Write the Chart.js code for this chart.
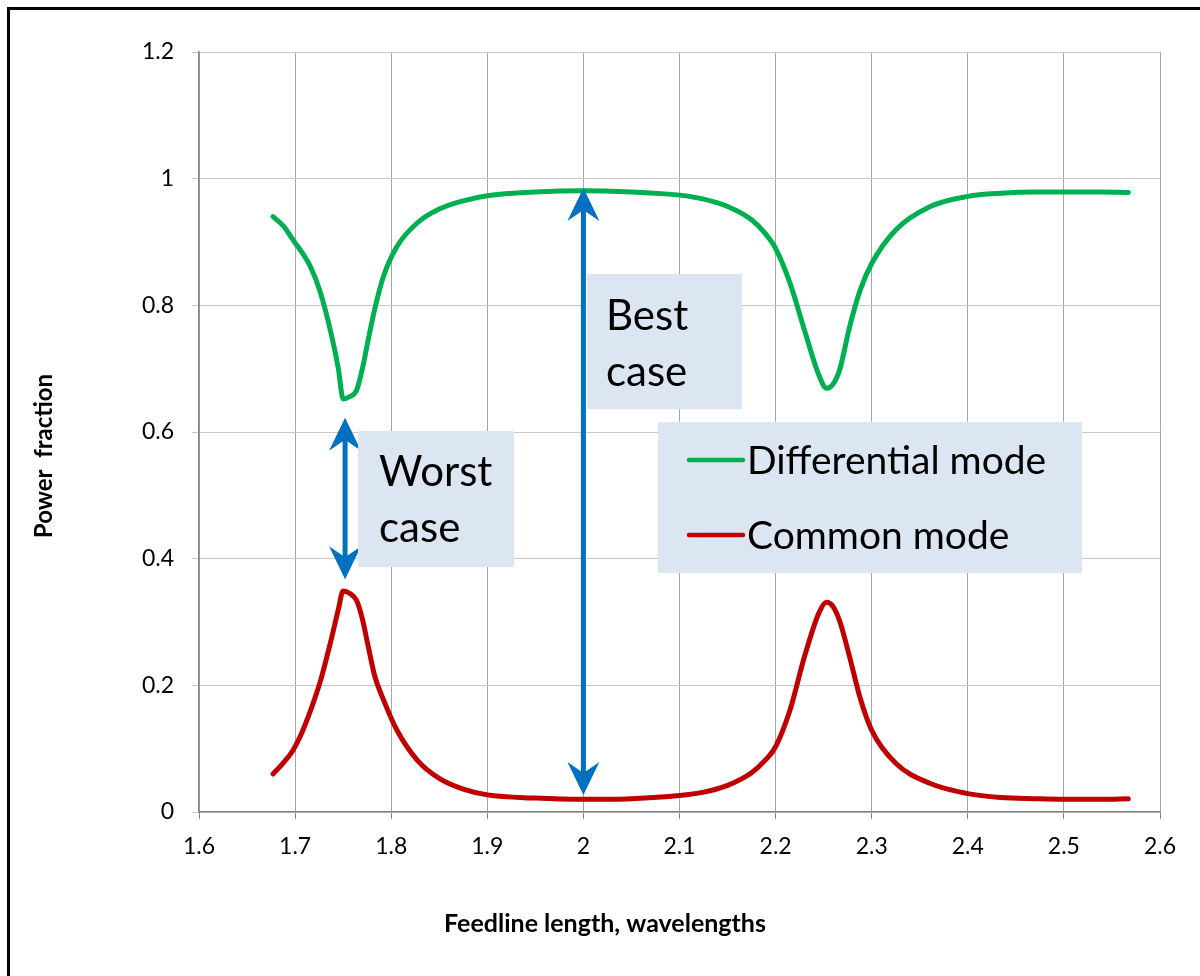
<!DOCTYPE html>
<html>
<head>
<meta charset="utf-8">
<script src="https://cdn.jsdelivr.net/npm/chart.js@4.4.1/dist/chart.umd.min.js"></script>
<style>
    html, body { margin: 0; padding: 0; background: #fff; }
    #wrap { position: relative; width: 1200px; height: 976px; }
</style>
</head>
<body>
<div id="wrap"><canvas id="modeChart"></canvas></div>
<script>
// Feedline length in wavelengths
const lengths = [1.677, 1.688, 1.698, 1.707, 1.716, 1.726, 1.738, 1.745, 1.750, 1.757, 1.764, 1.770, 1.776, 1.783,
    1.792, 1.806, 1.827, 1.85, 1.875, 1.90, 1.95, 2.00, 2.05, 2.10, 2.124, 2.15, 2.175, 2.19, 2.20, 2.215,
    2.230, 2.245, 2.253, 2.260, 2.267, 2.277, 2.288, 2.300, 2.325, 2.361, 2.40, 2.434, 2.47, 2.50, 2.54, 2.567];

const differentialMode = [0.940, 0.925, 0.903, 0.884, 0.861, 0.822, 0.752, 0.700, 0.652, 0.656, 0.666, 0.700, 0.745, 0.795,
    0.846, 0.893, 0.930, 0.952, 0.965, 0.973, 0.979, 0.981, 0.979, 0.974, 0.968, 0.956, 0.935, 0.912, 0.890, 0.835,
    0.761, 0.690, 0.669, 0.676, 0.700, 0.766, 0.824, 0.866, 0.919, 0.956, 0.972, 0.977, 0.979, 0.979, 0.979, 0.978];

const commonMode = [0.060, 0.078, 0.098, 0.125, 0.160, 0.205, 0.275, 0.320, 0.349, 0.345, 0.334, 0.305, 0.262, 0.214,
    0.177, 0.129, 0.082, 0.053, 0.036, 0.027, 0.022, 0.020, 0.021, 0.026, 0.031, 0.042, 0.062, 0.083, 0.103, 0.161,
    0.245, 0.314, 0.331, 0.324, 0.300, 0.245, 0.180, 0.129, 0.077, 0.045, 0.029, 0.023, 0.021, 0.020, 0.020, 0.021];

const xTicks = [1.6, 1.7, 1.8, 1.9, 2, 2.1, 2.2, 2.3, 2.4, 2.5, 2.6];
const yTicks = [0, 0.2, 0.4, 0.6, 0.8, 1, 1.2];

const seriesNames = ['Differential mode', 'Common mode'];
const seriesColors = ['#00b050', '#c00000'];

// arrows: [x, yFrom, yTo]
const worstArrow = [1.752, 0.6226, 0.3674];
const bestArrow = [2.0, 0.9853, 0.0268];

const FONT = 'Lato, "Open Sans", sans-serif';
const ARROW_BLUE = '#0070c0';
const BOX_FILL = '#dce6f2';

function toPoints(ys) {
    return lengths.map((x, i) => ({ x: x, y: ys[i] }));
}

function drawArrowHead(ctx, x, y, dir) {
    // dir = -1 points up, 1 points down
    ctx.beginPath();
    ctx.moveTo(x, y);
    ctx.lineTo(x - 16, y - dir * 33);
    ctx.lineTo(x, y - dir * 22);
    ctx.lineTo(x + 16, y - dir * 33);
    ctx.closePath();
    ctx.fill();
}

function drawDoubleArrow(chart, a) {
    const ctx = chart.ctx;
    const xs = chart.scales.x, ys = chart.scales.y;
    const px = xs.getPixelForValue(a[0]);
    const top = ys.getPixelForValue(a[1]);
    const bot = ys.getPixelForValue(a[2]);
    ctx.save();
    ctx.strokeStyle = ARROW_BLUE;
    ctx.fillStyle = ARROW_BLUE;
    ctx.lineWidth = 5;
    ctx.beginPath();
    ctx.moveTo(px, top + 20);
    ctx.lineTo(px, bot - 20);
    ctx.stroke();
    drawArrowHead(ctx, px, top, -1);
    drawArrowHead(ctx, px, bot, 1);
    ctx.restore();
}

function drawTextBox(chart, x0, y0, x1, y1, lines, textX, firstBase, lineGap, size) {
    const ctx = chart.ctx;
    const xs = chart.scales.x, ys = chart.scales.y;
    const l = xs.getPixelForValue(x0), r = xs.getPixelForValue(x1);
    const t = ys.getPixelForValue(y0), b = ys.getPixelForValue(y1);
    ctx.save();
    ctx.fillStyle = BOX_FILL;
    ctx.fillRect(l, t, r - l, b - t);
    ctx.fillStyle = '#000';
    ctx.font = size + 'px ' + FONT;
    ctx.textBaseline = 'alphabetic';
    ctx.textAlign = 'left';
    lines.forEach((txt, i) => ctx.fillText(txt, l + textX, t + firstBase + i * lineGap));
    ctx.restore();
}

const overlay = {
    id: 'overlay',
    beforeDraw(chart) {
        const ctx = chart.ctx;
        ctx.save();
        ctx.fillStyle = '#fff';
        ctx.fillRect(0, 0, chart.width, chart.height);
        // outer frame (only top and left edges visible)
        ctx.strokeStyle = '#000';
        ctx.lineWidth = 3;
        ctx.strokeRect(8.5, 8.5, 1400, 1400);
        ctx.restore();
    },
    afterDatasetsDraw(chart) {
        const ctx = chart.ctx;

        drawDoubleArrow(chart, worstArrow);
        drawDoubleArrow(chart, bestArrow);

        drawTextBox(chart, 1.7655, 0.6016, 1.9278, 0.3869, ['Worst', 'case'], 21, 55, 56, 42);
        drawTextBox(chart, 2.0037, 0.8495, 2.165, 0.636, ['Best', 'case'], 19, 56, 56, 42);

        // legend
        const xs = chart.scales.x, ys = chart.scales.y;
        const l = xs.getPixelForValue(2.0776), r = xs.getPixelForValue(2.5188);
        const t = ys.getPixelForValue(0.6158), b = ys.getPixelForValue(0.3774);
        ctx.save();
        ctx.fillStyle = BOX_FILL;
        ctx.fillRect(l, t, r - l, b - t);
        ctx.font = '39px ' + FONT;
        ctx.textBaseline = 'middle';
        chart.data.datasets.forEach((ds, i) => {
            const y = t + 38 + i * 75;
            ctx.strokeStyle = ds.borderColor;
            ctx.lineWidth = 4.5;
            ctx.lineCap = 'round';
            ctx.beginPath();
            ctx.moveTo(l + 31, y);
            ctx.lineTo(l + 85, y);
            ctx.stroke();
            ctx.fillStyle = '#000';
            ctx.fillText(ds.label, l + 89, y + 1);
        });

        // axis titles
        ctx.font = 'bold 25px ' + FONT;
        ctx.textAlign = 'center';
        ctx.textBaseline = 'middle';
        ctx.fillText('Feedline length, wavelengths', 605, 924);
        ctx.font = 'bold 24px ' + FONT;
        ctx.translate(44, 456);
        ctx.rotate(-Math.PI / 2);
        ctx.fillText('Power  fraction', 0, 0);
        ctx.restore();
    }
};

new Chart(document.getElementById('modeChart'), {
    type: 'line',
    data: {
        datasets: [
            {
                label: seriesNames[0],
                data: toPoints(differentialMode),
                borderColor: seriesColors[0],
                borderWidth: 5
            },
            {
                label: seriesNames[1],
                data: toPoints(commonMode),
                borderColor: seriesColors[1],
                borderWidth: 5
            }
        ]
    },
    options: {
        responsive: true,
        maintainAspectRatio: false,
        animation: false,
        layout: { padding: { left: 0, right: 40, top: 52, bottom: 0 } },
        elements: {
            point: { radius: 0 },
            line: {
                cubicInterpolationMode: 'monotone',
                borderCapStyle: 'round',
                borderJoinStyle: 'round',
                fill: false
            }
        },
        plugins: {
            legend: { display: false },
            tooltip: { enabled: false }
        },
        scales: {
            x: {
                type: 'linear',
                min: xTicks[0],
                max: xTicks[xTicks.length - 1],
                afterBuildTicks: s => { s.ticks = xTicks.map(v => ({ value: v })); },
                afterFit: s => { s.height = 164; },
                grid: { color: '#a6a6a6', tickColor: '#868686', tickLength: 7 },
                border: { color: '#868686', width: 1.5 },
                ticks: {
                    color: '#000',
                    font: { family: FONT, size: 23 },
                    padding: 14,
                    maxRotation: 0,
                    autoSkip: false,
                    callback: v => String(Math.round(v * 10) / 10)
                }
            },
            y: {
                min: yTicks[0],
                max: yTicks[yTicks.length - 1],
                afterBuildTicks: s => { s.ticks = yTicks.map(v => ({ value: v })); },
                afterFit: s => { s.width = 199; },
                grid: { color: '#c8c8c8', tickColor: '#c8c8c8', tickLength: 7 },
                border: { color: '#868686', width: 1.5 },
                ticks: {
                    color: '#000',
                    font: { family: FONT, size: 23 },
                    padding: 18,
                    callback: v => String(Math.round(v * 10) / 10)
                }
            }
        }
    },
    plugins: [overlay]
});
</script>
</body>
</html>
